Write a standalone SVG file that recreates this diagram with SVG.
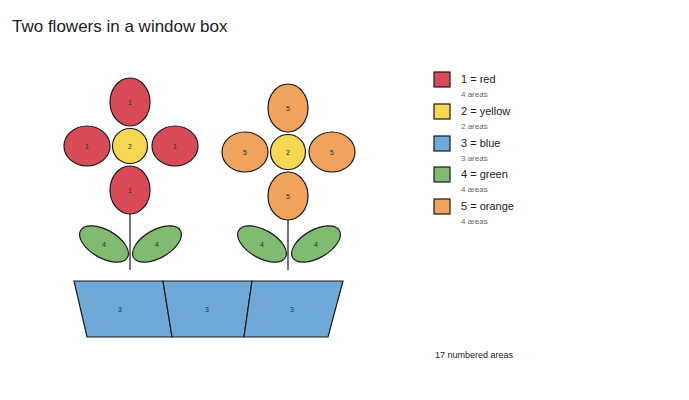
<svg xmlns="http://www.w3.org/2000/svg" width="689" height="400" viewBox="0 0 689 400">
<style>
.s{stroke:#1a1a1a;stroke-width:1.2}
.r{fill:#d94b58}.y{fill:#f5d752}.b{fill:#6ea9d8}.g{fill:#80bb72}.o{fill:#efa35c}
.n{font-family:"Liberation Sans",Arial,sans-serif;font-size:7px;fill:#333;text-anchor:middle;dominant-baseline:central}
.l{font-family:"Liberation Sans",Arial,sans-serif;font-size:11px;fill:#222}
.a{font-family:"Liberation Sans",Arial,sans-serif;font-size:8px;fill:#666}
</style>
<rect width="689" height="400" fill="#fff"/>
<text x="12" y="32" font-family="Liberation Sans,Arial,sans-serif" font-size="17" fill="#222">Two flowers in a window box</text>
<g id="stems" stroke="#1a1a1a" stroke-width="1.2">
<line x1="130" y1="214" x2="130" y2="270"/>
<line x1="288" y1="218" x2="288" y2="270"/>
</g>
<g id="flower1">
<ellipse class="r s" cx="130" cy="102" rx="20" ry="24"/><text class="n" x="130" y="102">1</text>
<ellipse class="r s" cx="87" cy="146" rx="23" ry="20"/><text class="n" x="87" y="146">1</text>
<ellipse class="r s" cx="175" cy="146" rx="23" ry="20"/><text class="n" x="175" y="146">1</text>
<ellipse class="r s" cx="130" cy="190" rx="20" ry="24"/><text class="n" x="130" y="190">1</text>
<circle class="y s" cx="130" cy="146" r="17.5"/><text class="n" x="130" y="146">2</text>
<ellipse class="g s" cx="104" cy="244" rx="27" ry="14" transform="rotate(30 104 244)"/><text class="n" x="104" y="244">4</text>
<ellipse class="g s" cx="157" cy="244" rx="27" ry="14" transform="rotate(-30 157 244)"/><text class="n" x="157" y="244">4</text>
</g>
<g id="flower2">
<ellipse class="o s" cx="288" cy="108" rx="20" ry="24"/><text class="n" x="288" y="108">5</text>
<ellipse class="o s" cx="245" cy="152" rx="23" ry="20"/><text class="n" x="245" y="152">5</text>
<ellipse class="o s" cx="332" cy="152" rx="23" ry="20"/><text class="n" x="332" y="152">5</text>
<ellipse class="o s" cx="288" cy="196" rx="20" ry="24"/><text class="n" x="288" y="196">5</text>
<circle class="y s" cx="288" cy="152" r="17.5"/><text class="n" x="288" y="152">2</text>
<ellipse class="g s" cx="262" cy="244" rx="27" ry="14" transform="rotate(30 262 244)"/><text class="n" x="262" y="244">4</text>
<ellipse class="g s" cx="316" cy="244" rx="27" ry="14" transform="rotate(-30 316 244)"/><text class="n" x="316" y="244">4</text>
</g>
<g id="box">
<polygon class="b s" points="74,281 163,281 172,337 87,337"/><text class="n" x="120" y="309">3</text>
<polygon class="b s" points="163,281 252,281 244,337 172,337"/><text class="n" x="207" y="309">3</text>
<polygon class="b s" points="252,281 343,281 328,337 244,337"/><text class="n" x="292" y="309">3</text>
</g>
<g id="legend">
<rect class="r s" x="434" y="72" width="16" height="15"/><text class="l" x="461" y="83">1 = red</text><text class="a" x="461" y="97">4 areas</text>
<rect class="y s" x="434" y="104" width="16" height="15"/><text class="l" x="461" y="115">2 = yellow</text><text class="a" x="461" y="129">2 areas</text>
<rect class="b s" x="434" y="136" width="16" height="15"/><text class="l" x="461" y="147">3 = blue</text><text class="a" x="461" y="161">3 areas</text>
<rect class="g s" x="434" y="167" width="16" height="15"/><text class="l" x="461" y="178">4 = green</text><text class="a" x="461" y="192">4 areas</text>
<rect class="o s" x="434" y="199" width="16" height="15"/><text class="l" x="461" y="210">5 = orange</text><text class="a" x="461" y="224">4 areas</text>
<text x="435" y="358" font-family="Liberation Sans,Arial,sans-serif" font-size="9" fill="#222">17 numbered areas</text>
</g>
</svg>
